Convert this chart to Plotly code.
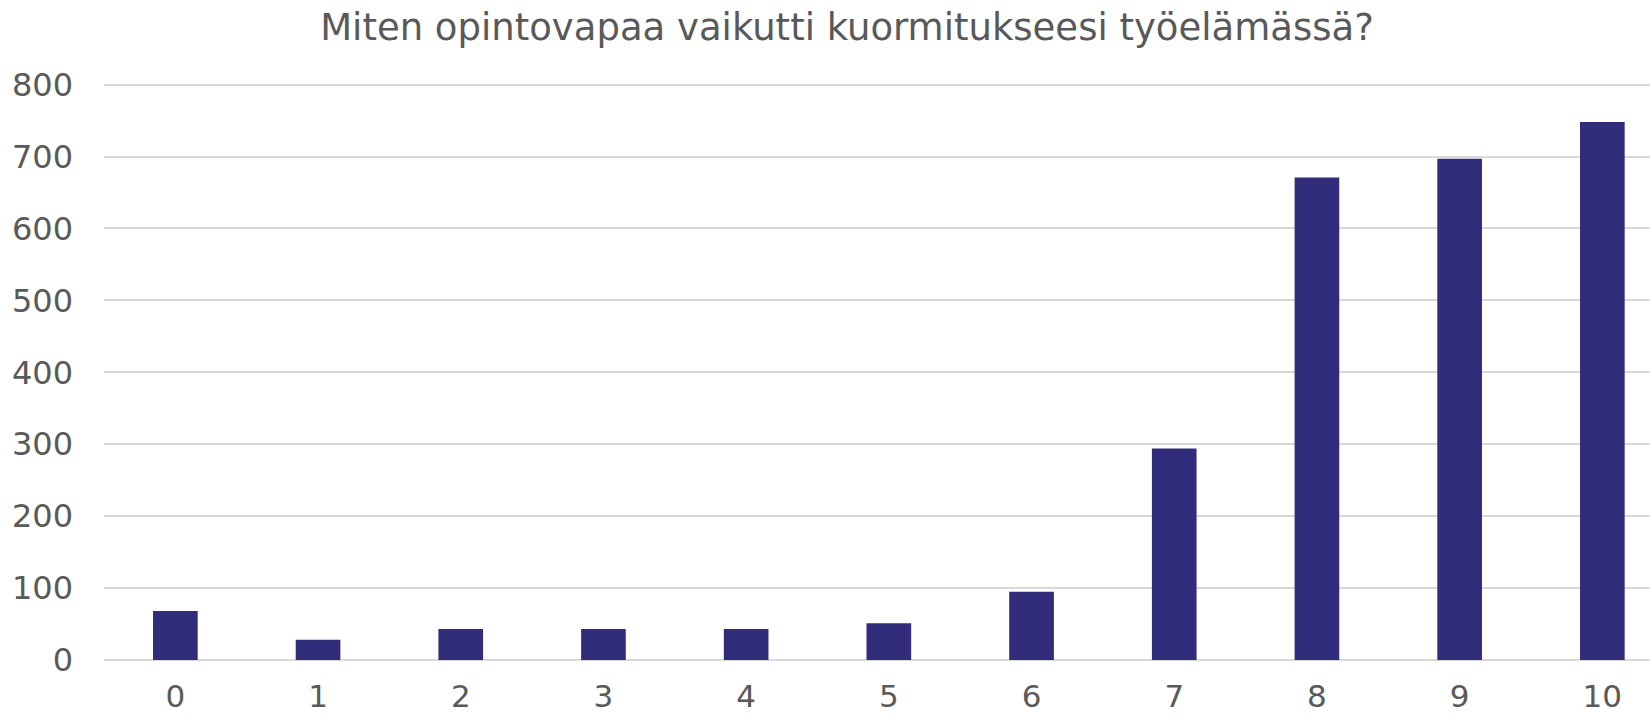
import plotly.graph_objects as go

# vastaukset asteikolla 0-10
categories = ['0', '1', '2', '3', '4', '5', '6', '7', '8', '9', '10']
counts = [68, 28, 43, 43, 43, 51, 95, 294, 671, 697, 748]
y_ticks = [0, 100, 200, 300, 400, 500, 600, 700, 800]

text_color = '#595959'
grid_color = '#D9D9D9'

fig = go.Figure()

fig.add_trace(go.Bar(
    x=list(range(len(categories))),
    y=counts,
    marker=dict(color='#322D7B', line=dict(width=0)),
    width=0.313,
))

fig.update_layout(
    width=1650,
    height=717,
    paper_bgcolor='white',
    plot_bgcolor='white',
    font=dict(family='DejaVu Sans, Verdana, sans-serif', color=text_color, size=32),
    title=dict(
        text='Miten opintovapaa vaikutti kuormitukseesi työelämässä?',
        x=847 / 1650,
        xanchor='center',
        y=1 - 27 / 717,
        yanchor='middle',
        font=dict(size=37, color=text_color),
    ),
    margin=dict(l=104, r=0, t=81, b=57, pad=0),
    showlegend=False,
    xaxis=dict(
        tickmode='array',
        tickvals=list(range(len(categories))),
        ticktext=categories,
        range=[-0.5, 10.334],
        showgrid=False,
        zeroline=False,
        showline=False,
        ticks='',
        ticklabelstandoff=15,
        tickfont=dict(size=31),
        automargin=False,
    ),
    yaxis=dict(
        range=[0, 805],
        tickvals=y_ticks,
        showgrid=True,
        gridcolor=grid_color,
        gridwidth=2,
        zeroline=True,
        zerolinecolor=grid_color,
        zerolinewidth=2,
        showline=False,
        ticks='',
        ticklabelstandoff=30,
        tickfont=dict(size=32),
        automargin=False,
    ),
)

# selaimen oletusmarginaali pois, jotta kuva alkaa kulmasta
fig.write_html('out.html', config={'displayModeBar': False},
               post_script="document.body.style.margin='0';")
